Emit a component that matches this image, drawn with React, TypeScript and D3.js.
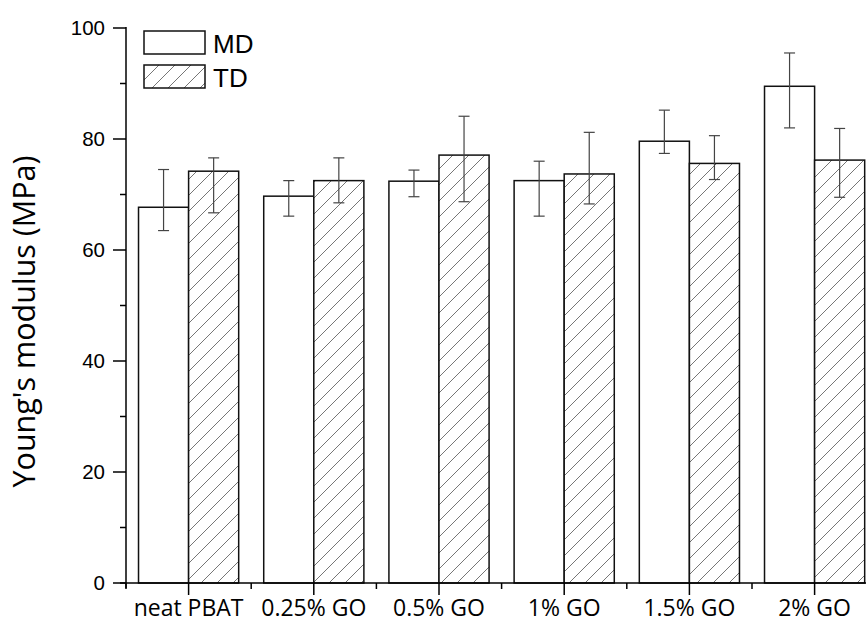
import React from 'react';
import * as d3 from 'd3';

const categories = ['neat PBAT', '0.25% GO', '0.5% GO', '1% GO', '1.5% GO', '2% GO'];
const mdValues = [67.7, 69.7, 72.4, 72.5, 79.6, 89.5];
const tdValues = [74.2, 72.5, 77.1, 73.7, 75.6, 76.2];
// error bar ends (upper / lower)
const mdHigh = [74.5, 72.5, 74.4, 76.0, 85.2, 95.5];
const mdLow = [63.5, 66.1, 69.6, 66.1, 77.4, 82.0];
const tdHigh = [76.6, 76.6, 84.1, 81.2, 80.6, 81.9];
const tdLow = [66.7, 68.5, 68.7, 68.3, 72.7, 69.5];
const yTicks = [0, 20, 40, 60, 80, 100];
const yMinor = [10, 30, 50, 70, 90];

const W = 866, H = 624;
const left = 126, bottom = 583, top = 28;
const band = 125.2;

export default function App() {
  const x = d3.scaleBand<string>()
    .domain(categories)
    .range([left, left + band * categories.length])
    .paddingInner(0.2)
    .paddingOuter(0.1);
  const y = d3.scaleLinear().domain([0, 100]).range([bottom, top]);
  const sub = d3.scaleBand<string>().domain(['MD', 'TD']).range([0, x.bandwidth()]);
  const capW = 11;
  const errColor = '#444';

  const series = [
    { key: 'MD', vals: mdValues, hi: mdHigh, lo: mdLow, fill: '#fff' },
    { key: 'TD', vals: tdValues, hi: tdHigh, lo: tdLow, fill: 'url(#hatch)' },
  ];

  // group centres for x ticks, and the gaps between groups for the minor ones
  const centres = categories.map(c => (x(c) as number) + x.bandwidth() / 2);
  const minors = d3.range(categories.length + 1).map(i => left + band * i);

  return (
    <svg width={W} height={H} style={{ position: 'absolute', left: 0, top: 0, background: '#fff' }}>
      <defs>
        <pattern id="hatch" patternUnits="userSpaceOnUse" width={16} height={16}>
          <rect width={16} height={16} fill="#fff" />
          <path d="M0,16 L16,0 M-4,4 L4,-4 M12,20 L20,12" stroke="#666" strokeWidth={0.9} />
        </pattern>
      </defs>

      {series.map(s => (
        <g key={s.key}>
          {categories.map((c, i) => {
            const bx = (x(c) as number) + (sub(s.key) as number);
            const cx = bx + sub.bandwidth() / 2;
            return (
              <g key={c}>
                <rect x={bx} y={y(s.vals[i])} width={sub.bandwidth()} height={bottom - y(s.vals[i])}
                  fill={s.fill} stroke="#111" strokeWidth={1.5} />
                <line x1={cx} x2={cx} y1={y(s.hi[i])} y2={y(s.lo[i])} stroke={errColor} strokeWidth={1.2} />
                <line x1={cx - capW / 2} x2={cx + capW / 2} y1={y(s.hi[i])} y2={y(s.hi[i])} stroke={errColor} strokeWidth={1.2} />
                <line x1={cx - capW / 2} x2={cx + capW / 2} y1={y(s.lo[i])} y2={y(s.lo[i])} stroke={errColor} strokeWidth={1.2} />
              </g>
            );
          })}
        </g>
      ))}

      {/* y axis */}
      <line x1={left} x2={left} y1={top - 1} y2={bottom + 5} stroke="#000" strokeWidth={1.5} />
      {yTicks.map(t => (
        <g key={t}>
          <line x1={left - 13} x2={left} y1={y(t)} y2={y(t)} stroke="#000" strokeWidth={1.5} />
          <text x={105} y={y(t) + 7} textAnchor="end" fontFamily="'Liberation Sans', Arial, sans-serif" fontSize={20.5}>{t}</text>
        </g>
      ))}
      {yMinor.map(t => (
        <line key={t} x1={left - 6} x2={left} y1={y(t)} y2={y(t)} stroke="#000" strokeWidth={1.5} />
      ))}
      <text transform={`translate(35,${(top + bottom) / 2 + 16}) rotate(-90)`} textAnchor="middle"
        fontFamily="'Open Sans', 'Noto Sans', sans-serif" fontSize={30.5}>Young's modulus (MPa)</text>

      {/* x axis */}
      <line x1={left - 6} x2={W} y1={bottom} y2={bottom} stroke="#000" strokeWidth={1.5} />
      {centres.map((c, i) => (
        <g key={i}>
          <line x1={c} x2={c} y1={bottom} y2={bottom + 12} stroke="#000" strokeWidth={1.5} />
          <text x={c} y={616} textAnchor="middle" fontFamily="'Open Sans', 'Noto Sans', sans-serif" fontSize={23}>{categories[i]}</text>
        </g>
      ))}
      {minors.map((m, i) => (
        <line key={i} x1={m} x2={m} y1={bottom} y2={bottom + 6} stroke="#000" strokeWidth={1.5} />
      ))}

      {/* legend */}
      {series.map((s, i) => (
        <g key={s.key}>
          <rect x={144} y={31 + i * 34} width={61} height={23} fill={s.fill} stroke="#111" strokeWidth={1.5} />
          <text x={213} y={53 + i * 34} fontFamily="'Liberation Sans', Arial, sans-serif" fontSize={26}>{s.key}</text>
        </g>
      ))}
    </svg>
  );
}
